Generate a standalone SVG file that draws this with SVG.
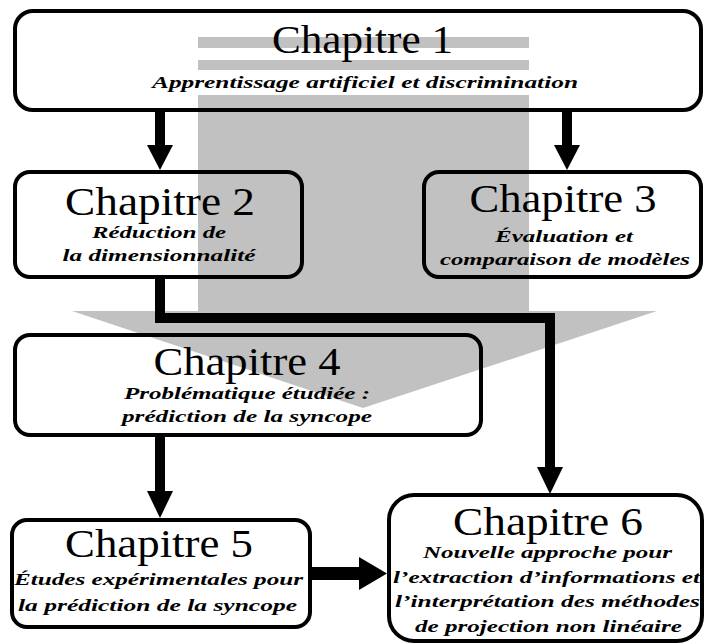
<svg xmlns="http://www.w3.org/2000/svg" width="704" height="644" viewBox="0 0 704 644">
  <style>
    .box { fill: none; stroke: #000; stroke-width: 4; }
    .title { font-family: "Liberation Serif", "Times New Roman", "DejaVu Serif", serif; font-size: 40px; text-anchor: middle; fill: #000; }
    .sub { font-family: "Liberation Serif", "Times New Roman", "DejaVu Serif", serif; font-size: 17px; font-style: italic; font-weight: bold; text-anchor: middle; fill: #000; }
    .wire { fill: none; stroke: #000; stroke-width: 10; stroke-linejoin: miter; }
    .head { fill: #000; }
    .shade { fill: #c0c1c0; }
  </style>

  <rect x="0" y="0" width="704" height="644" fill="#fff"/>

  <!-- large grey backdrop arrow pointing down to chapter 4 -->
  <g id="backdrop">
    <rect class="shade" x="198" y="37" width="331" height="11"/>
    <rect class="shade" x="198" y="60" width="331" height="10"/>
    <rect class="shade" x="198" y="95" width="331" height="216"/>
    <polygon class="shade" points="72,311 657,311 363,408"/>
  </g>

  <!-- connectors -->
  <g id="connectors">
    <line class="wire" x1="160" y1="110" x2="160" y2="147"/>
    <polygon class="head" points="147,145 173,145 160,170"/>
    <line class="wire" x1="567" y1="110" x2="567" y2="147"/>
    <polygon class="head" points="554,145 580,145 567,170"/>
    <path class="wire" d="M160,277 V318 H550 V469"/>
    <polygon class="head" points="537,467 563,467 550,494"/>
    <line class="wire" x1="160" y1="435" x2="160" y2="493"/>
    <polygon class="head" points="147,491 173,491 160,518"/>
    <line class="wire" x1="310" y1="573.5" x2="362" y2="573.5" style="stroke-width:13"/>
    <polygon class="head" points="359,557 359,590 387,573.5"/>
  </g>

  <g id="chapitre1">
    <rect class="box" x="15" y="11" width="686" height="99" rx="18"/>
    <text class="title" x="362.5" y="53" textLength="181" lengthAdjust="spacingAndGlyphs">Chapitre 1</text>
    <text class="sub" x="365" y="88" textLength="426" lengthAdjust="spacingAndGlyphs">Apprentissage artificiel et discrimination</text>
  </g>

  <g id="chapitre2">
    <rect class="box" x="15" y="172" width="287" height="105" rx="15"/>
    <text class="title" x="160" y="215" textLength="190" lengthAdjust="spacingAndGlyphs">Chapitre 2</text>
    <text class="sub" x="159" y="238" textLength="134" lengthAdjust="spacingAndGlyphs">Réduction de</text>
    <text class="sub" x="159" y="261" textLength="193" lengthAdjust="spacingAndGlyphs">la dimensionnalité</text>
  </g>

  <g id="chapitre3">
    <rect class="box" x="424" y="172" width="277" height="105" rx="15"/>
    <text class="title" x="563" y="212" textLength="187" lengthAdjust="spacingAndGlyphs">Chapitre 3</text>
    <text class="sub" x="564" y="242" textLength="138" lengthAdjust="spacingAndGlyphs">Évaluation et</text>
    <text class="sub" x="565" y="265" textLength="250" lengthAdjust="spacingAndGlyphs">comparaison de modèles</text>
  </g>

  <g id="chapitre4">
    <rect class="box" x="15" y="335" width="466" height="100" rx="15"/>
    <text class="title" x="247" y="375" textLength="187" lengthAdjust="spacingAndGlyphs">Chapitre 4</text>
    <text class="sub" x="247" y="399" textLength="246" lengthAdjust="spacingAndGlyphs">Problématique étudiée :</text>
    <text class="sub" x="247" y="422" textLength="250" lengthAdjust="spacingAndGlyphs">prédiction de la syncope</text>
  </g>

  <g id="chapitre5">
    <rect class="box" x="12" y="520" width="298" height="107" rx="15"/>
    <text class="title" x="159" y="557" textLength="188" lengthAdjust="spacingAndGlyphs">Chapitre 5</text>
    <text class="sub" x="158.5" y="585" textLength="289" lengthAdjust="spacingAndGlyphs">Études expérimentales pour</text>
    <text class="sub" x="157.5" y="611" textLength="279" lengthAdjust="spacingAndGlyphs">la prédiction de la syncope</text>
  </g>

  <g id="chapitre6">
    <rect class="box" x="389" y="495" width="313" height="146" rx="25"/>
    <text class="title" x="548" y="535" textLength="190" lengthAdjust="spacingAndGlyphs">Chapitre 6</text>
    <text class="sub" x="547.5" y="558" textLength="249" lengthAdjust="spacingAndGlyphs">Nouvelle approche pour</text>
    <text class="sub" x="546.5" y="583" textLength="307" lengthAdjust="spacingAndGlyphs">l’extraction d’informations et</text>
    <text class="sub" x="547.5" y="607" textLength="305" lengthAdjust="spacingAndGlyphs">l’interprétation des méthodes</text>
    <text class="sub" x="548.5" y="632" textLength="267" lengthAdjust="spacingAndGlyphs">de projection non linéaire</text>
  </g>
</svg>
